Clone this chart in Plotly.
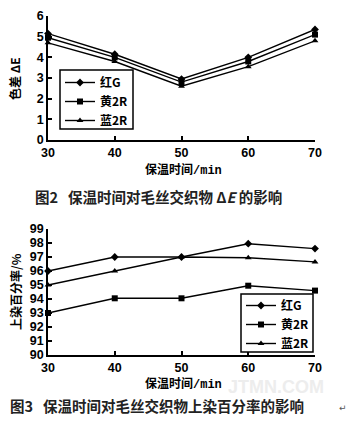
import plotly.graph_objects as go

# ---- data ----
time_min = [30, 40, 50, 60, 70]

de_hong_g = [5.15, 4.15, 2.95, 4.0, 5.35]
de_huang_2r = [4.95, 4.0, 2.8, 3.8, 5.1]
de_lan_2r = [4.7, 3.8, 2.6, 3.55, 4.8]

up_hong_g = [96.0, 97.0, 97.0, 97.95, 97.6]
up_huang_2r = [93.0, 94.05, 94.05, 94.95, 94.6]
up_lan_2r = [95.0, 96.0, 97.0, 96.95, 96.65]

series_names = ["红G", "黄2R", "蓝2R"]
series_symbols = ["diamond", "square", "triangle-up"]
marker_sizes = [6, 6, 6]

de_ticks = [0, 1, 2, 3, 4, 5, 6]
up_ticks = [90, 91, 92, 93, 94, 95, 96, 97, 98, 99]
x_ticks = [30, 40, 50, 60, 70]

W, H = 357, 421
CJK = "Noto Sans CJK SC"
NUM = "Liberation Sans"

fig = go.Figure()

for name, sym, ms, ys in zip(series_names, series_symbols, marker_sizes,
                             [de_hong_g, de_huang_2r, de_lan_2r]):
    fig.add_trace(go.Scatter(
        x=time_min, y=ys, name=name, mode="lines+markers",
        line=dict(color="black", width=1.4),
        marker=dict(symbol=sym, size=ms, color="black"),
        xaxis="x", yaxis="y", legend="legend", cliponaxis=False))

for name, sym, ms, ys in zip(series_names, series_symbols, marker_sizes,
                             [up_hong_g, up_huang_2r, up_lan_2r]):
    fig.add_trace(go.Scatter(
        x=time_min, y=ys, name=name, mode="lines+markers",
        line=dict(color="black", width=1.4),
        marker=dict(symbol=sym, size=ms, color="black"),
        xaxis="x2", yaxis="y2", legend="legend2", cliponaxis=False))

def px_x(v):
    return v / W

def px_y(v):
    return 1 - v / H

axis_common = dict(
    showline=True, linecolor="black", linewidth=1.5, mirror=False,
    ticks="inside", ticklen=4, tickwidth=1.5, tickcolor="black",
    showgrid=False, zeroline=False, automargin=False,
    tickfont=dict(family=NUM, size=12.5, color="black", weight="bold"),
)

leg_font = dict(family=CJK, size=12, color="black", weight="bold")

# legend placement (top-left corner of each legend, in page pixels)
leg1_x, leg1_y = 60, 68
leg2_x, leg2_y = 241, 291

fig.update_layout(
    width=W, height=H,
    margin=dict(l=0, r=0, t=0, b=0, autoexpand=False),
    paper_bgcolor="white", plot_bgcolor="white",
    font=dict(family=CJK, color="black"),
    xaxis=dict(**axis_common, domain=[px_x(48), px_x(315)], anchor="y",
               range=[30, 70], tickvals=x_ticks),
    yaxis=dict(**axis_common, domain=[px_y(140), px_y(16)], anchor="x",
               range=[0, 6], tickvals=de_ticks),
    xaxis2=dict(**axis_common, domain=[px_x(48), px_x(315)], anchor="y2",
                range=[30, 70], tickvals=x_ticks),
    yaxis2=dict(**axis_common, domain=[px_y(355), px_y(229)], anchor="x2",
                range=[90, 99], tickvals=up_ticks),
    legend=dict(x=px_x(leg1_x), y=px_y(leg1_y), xanchor="left", yanchor="top",
                borderwidth=0, bgcolor="rgba(0,0,0,0)",
                font=leg_font, tracegroupgap=0),
    legend2=dict(x=px_x(leg2_x), y=px_y(leg2_y), xanchor="left", yanchor="top",
                 borderwidth=0, bgcolor="rgba(0,0,0,0)",
                 font=leg_font, tracegroupgap=0),
    showlegend=True,
)

# legend frames (layout decoration, drawn under the legend entries)
legend_frames = [(leg1_x, leg1_y + 2, leg1_x + 73, leg1_y + 61),
                 (leg2_x, leg2_y + 3, leg2_x + 72, leg2_y + 61)]
for x0, y0, x1, y1 in legend_frames:
    fig.add_shape(type="rect", xref="paper", yref="paper",
                  x0=px_x(x0), x1=px_x(x1), y0=px_y(y0), y1=px_y(y1),
                  line=dict(color="black", width=1.5), fillcolor="white",
                  layer="above")

xtitle = "保温时间<span style='font-family:Liberation Mono'>/min</span>"
title_font = dict(family=CJK, size=12, color="black", weight="bold")

def note(text, x, y, font, angle=0, xanchor="center"):
    fig.add_annotation(text=text, x=px_x(x), y=px_y(y), xref="paper", yref="paper",
                       xanchor=xanchor, yanchor="middle", showarrow=False,
                       textangle=angle, font=font)

note(xtitle, 184, 169, title_font)
note(xtitle, 184, 383, title_font)
note("色差 ΔE", 15, 79, title_font, angle=-90)
note("上染百分率/%", 15, 292, title_font, angle=-90)

cap_font = dict(family=CJK, size=14.5, color="#222", weight="bold")
note("图2 &nbsp;&nbsp;保温时间对毛丝交织物 Δ<i>E</i> 的影响", 33, 196, cap_font, xanchor="left")
note("图3 &nbsp;&nbsp;保温时间对毛丝交织物上染百分率的影响", 8, 405, cap_font, xanchor="left")
note("JTMN.COM", 276, 387, dict(family=NUM, size=18, color="#ededed", weight="bold"))
note("↵", 343, 408, dict(family="DejaVu Sans", size=9, color="#555"))

post = """
document.body.style.margin='0';
document.body.style.overflow='hidden';
"""

fig.write_html("out.html", config={"displayModeBar": False}, post_script=post)
